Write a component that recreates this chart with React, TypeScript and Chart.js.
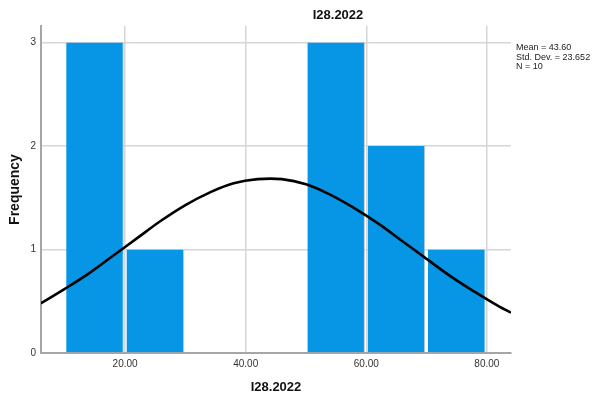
import React, { useEffect, useRef } from "react";
import { Chart, registerables } from "chart.js";

Chart.register(...registerables);

const chartTitle = "I28.2022";
const xAxisTitle = "I28.2022";
const yAxisTitle = "Frequency";

const binCenters = [15, 25, 35, 45, 55, 65, 75];
const frequencies = [3, 1, 0, 0, 3, 2, 1];

const curveX = [6, 10, 14, 18, 22, 26, 30, 34, 38, 42, 46, 50, 54, 58, 62, 66, 70, 74, 78, 82, 84];
const curveY = [0.48, 0.62, 0.77, 0.94, 1.11, 1.28, 1.43, 1.55, 1.64, 1.68, 1.68, 1.63, 1.53, 1.4, 1.25, 1.08, 0.91, 0.74, 0.59, 0.45, 0.39];

const xTicks = [20, 40, 60, 80];
const yTicks = [0, 1, 2, 3];

const statsLines = ["Mean = 43.60", "Std. Dev. = 23.652", "N = 10"];

const FONT = "'Liberation Sans', Arial, sans-serif";

const textPlugin = {
  id: "textPlugin",
  afterDraw(chart: any) {
    const ctx = chart.ctx;
    ctx.save();
    ctx.fillStyle = "#111";
    ctx.font = `bold 13px ${FONT}`;
    ctx.textAlign = "center";
    ctx.textBaseline = "middle";
    ctx.fillText(chartTitle, 338, 15);
    ctx.font = `9px ${FONT}`;
    ctx.textAlign = "left";
    ctx.fillStyle = "#222";
    statsLines.forEach((s, i) => {
      ctx.fillText(s, 516, 48 + i * 9.5);
    });
    ctx.restore();
  },
};

export default function App() {
  const ref = useRef<HTMLCanvasElement>(null);
  useEffect(() => {
    if (!ref.current) return;
    const chart = new Chart(ref.current, {
      data: {
        datasets: [
          {
            type: "line",
            data: curveX.map((x, i) => ({ x, y: curveY[i] })),
            borderColor: "#000",
            borderWidth: 2.6,
            pointRadius: 0,
            tension: 0.4,
            fill: false,
            order: 0,
          } as any,
          {
            type: "bar",
            data: binCenters.map((x, i) => ({ x, y: frequencies[i] })),
            backgroundColor: "#0795e6",
            borderColor: "#c8c8c8",
            borderWidth: { right: 1, left: 0, top: 0, bottom: 0 },
            borderSkipped: false,
            barPercentage: 1,
            categoryPercentage: 0.955,
            order: 1,
          } as any,
        ],
      },
      options: {
        responsive: false,
        animation: false,
        layout: { padding: { left: 0, right: 83, top: 26, bottom: 0 } },
        plugins: {
          legend: { display: false },
          tooltip: { enabled: false },
          title: { display: false },
        },
        scales: {
          x: {
            type: "linear",
            min: 6.05,
            max: 84,
            offset: false,
            afterFit: (s: any) => {
              s.height = 45;
            },
            afterBuildTicks: (s: any) => {
              s.ticks = xTicks.map((v) => ({ value: v }));
            },
            grid: { color: "#d6d6d6", lineWidth: 1.5, drawTicks: false, offset: false },
            border: { display: true, color: "#a6a6a6", width: 2 },
            ticks: {
              padding: 5,
              color: "#333",
              font: { family: FONT, size: 10 },
              callback: (v: any) => Number(v).toFixed(2),
              maxRotation: 0,
            },
            title: {
              display: true,
              text: xAxisTitle,
              color: "#111",
              font: { family: FONT, size: 13, weight: "bold" },
              padding: { top: 0, bottom: 3 },
            },
          },
          y: {
            type: "linear",
            min: 0,
            max: 3.16,
            afterFit: (s: any) => {
              s.width = 41;
            },
            afterBuildTicks: (s: any) => {
              s.ticks = yTicks.map((v) => ({ value: v }));
            },
            grid: { color: "#d6d6d6", lineWidth: 1.5, drawTicks: false },
            border: { display: true, color: "#a6a6a6", width: 2 },
            ticks: {
              padding: 5,
              color: "#333",
              font: { family: FONT, size: 10 },
              callback: (v: any) => String(v),
            },
            title: {
              display: true,
              text: yAxisTitle,
              color: "#111",
              font: { family: FONT, size: 14, weight: "bold" },
              padding: { top: 7, bottom: 0 },
            },
          },
        },
      },
      plugins: [textPlugin],
    } as any);
    return () => chart.destroy();
  }, []);
  return (
    <div style={{ position: "absolute", left: 0, top: 0, width: 594, height: 398, background: "#fff" }}>
      <canvas ref={ref} width={594} height={398} />
    </div>
  );
}
